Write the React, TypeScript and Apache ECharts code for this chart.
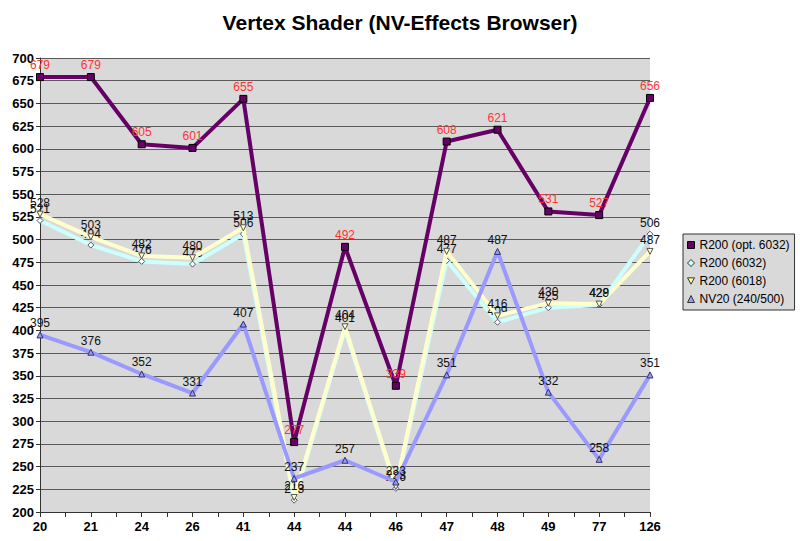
import React, { useEffect, useRef } from "react";
import * as echarts from "echarts";

const categories = ["20", "21", "24", "26", "41", "44", "44", "46", "47", "48", "49", "77", "126"];
const r200opt6032 = [679, 679, 605, 601, 655, 277, 492, 339, 608, 621, 531, 527, 656];
const r2006032 = [521, 494, 476, 473, 506, 213, 401, 226, 477, 409, 425, 428, 506];
const r2006018 = [528, 503, 482, 480, 513, 216, 404, 228, 487, 416, 430, 429, 487];
const nv20 = [395, 376, 352, 331, 407, 237, 257, 233, 351, 487, 332, 258, 351];
const seriesNames = ["R200 (opt. 6032)", "R200 (6032)", "R200 (6018)", "NV20 (240/500)"];

const FONT = "Liberation Sans, Arial, sans-serif";
const INV_TRI = "path://M0,0 L10,0 L5,9 Z";

export default function App() {
  const ref = useRef<HTMLDivElement>(null);
  useEffect(() => {
    document.body.style.margin = "0";
    const chart = echarts.init(ref.current!, null, { renderer: "svg" });
    const toPts = (arr: number[]) => arr.map((v, i) => [i, v]);
    const label = (color: string) => ({
      show: true,
      position: "top" as const,
      distance: 2,
      color,
      fontFamily: FONT,
      fontSize: 12,
    });
    chart.setOption({
      animation: false,
      backgroundColor: "#ffffff",
      title: {
        text: "Vertex Shader (NV-Effects Browser)",
        left: "center",
        top: 7,
        textStyle: { fontFamily: FONT, fontSize: 21, fontWeight: "bold", color: "#000" },
      },
      legend: {
        orient: "vertical",
        left: 683,
        top: 234,
        itemWidth: 7,
        itemHeight: 7,
        itemGap: 6,
        padding: [5, 5, 5, 4],
        backgroundColor: "#D9D9D9",
        borderColor: "#333",
        borderWidth: 1,
        borderRadius: 0,
        textStyle: { fontFamily: FONT, fontSize: 12, color: "#000" },
        data: [
          { name: seriesNames[0], icon: "rect", itemStyle: { color: "#660066", borderColor: "#000", borderWidth: 1 } },
          { name: seriesNames[1], icon: "diamond", itemStyle: { color: "#CCFFFF", borderColor: "#333", borderWidth: 1 } },
          { name: seriesNames[2], icon: INV_TRI, itemStyle: { color: "#FFFF99", borderColor: "#333", borderWidth: 1 } },
          { name: seriesNames[3], icon: "triangle", itemStyle: { color: "#9999FF", borderColor: "#333", borderWidth: 1 } },
        ],
      },
      grid: {
        left: 40,
        right: 150,
        top: 58,
        bottom: 29,
        show: true,
        backgroundColor: "#D9D9D9",
        borderWidth: 0,
      },
      xAxis: {
        type: "value",
        min: 0,
        max: 12,
        interval: 0.5,
        axisLine: { show: true, lineStyle: { color: "#333", width: 1 } },
        axisTick: { show: true, length: 5, lineStyle: { color: "#333" } },
        splitLine: { show: false },
        axisLabel: {
          fontFamily: FONT,
          fontSize: 13,
          fontWeight: "bold",
          color: "#000",
          margin: 8,
          formatter: (v: number) => (Number.isInteger(v) ? categories[v] : ""),
        },
      },
      yAxis: {
        type: "value",
        min: 200,
        max: 700,
        interval: 25,
        axisLine: { show: true, lineStyle: { color: "#333", width: 1 } },
        axisTick: { show: true, length: 4, lineStyle: { color: "#333" } },
        splitLine: { show: true, lineStyle: { color: "#5a5a5a", width: 1 } },
        axisLabel: {
          fontFamily: FONT,
          fontSize: 13,
          fontWeight: "bold",
          color: "#000",
          margin: 6,
        },
      },
      series: [
        {
          name: seriesNames[1],
          type: "line",
          data: toPts(r2006032),
          z: 2,
          lineStyle: { color: "#CCFFFF", width: 4 },
          itemStyle: { color: "#FFFFFF", borderColor: "#556", borderWidth: 1 },
          symbol: "diamond",
          symbolSize: 6,
          label: label("#111"),
        },
        {
          name: seriesNames[2],
          type: "line",
          data: toPts(r2006018),
          z: 3,
          lineStyle: { color: "#FFFFCC", width: 4 },
          itemStyle: { color: "#FFFFCC", borderColor: "#555", borderWidth: 1 },
          symbol: INV_TRI,
          symbolSize: 6,
          label: label("#111"),
        },
        {
          name: seriesNames[3],
          type: "line",
          data: toPts(nv20),
          z: 4,
          lineStyle: { color: "#9999FF", width: 4 },
          itemStyle: { color: "#9999FF", borderColor: "#333366", borderWidth: 1 },
          symbol: "triangle",
          symbolSize: 6,
          label: label("#111"),
        },
        {
          name: seriesNames[0],
          type: "line",
          data: toPts(r200opt6032),
          z: 5,
          lineStyle: { color: "#660066", width: 4 },
          itemStyle: { color: "#660066", borderColor: "#000", borderWidth: 1 },
          symbol: "rect",
          symbolSize: 7,
          label: label("#FF3333"),
        },
      ],
    });
    return () => chart.dispose();
  }, []);
  return <div ref={ref} style={{ width: 800, height: 541, position: "absolute", left: 0, top: 0 }} />;
}
